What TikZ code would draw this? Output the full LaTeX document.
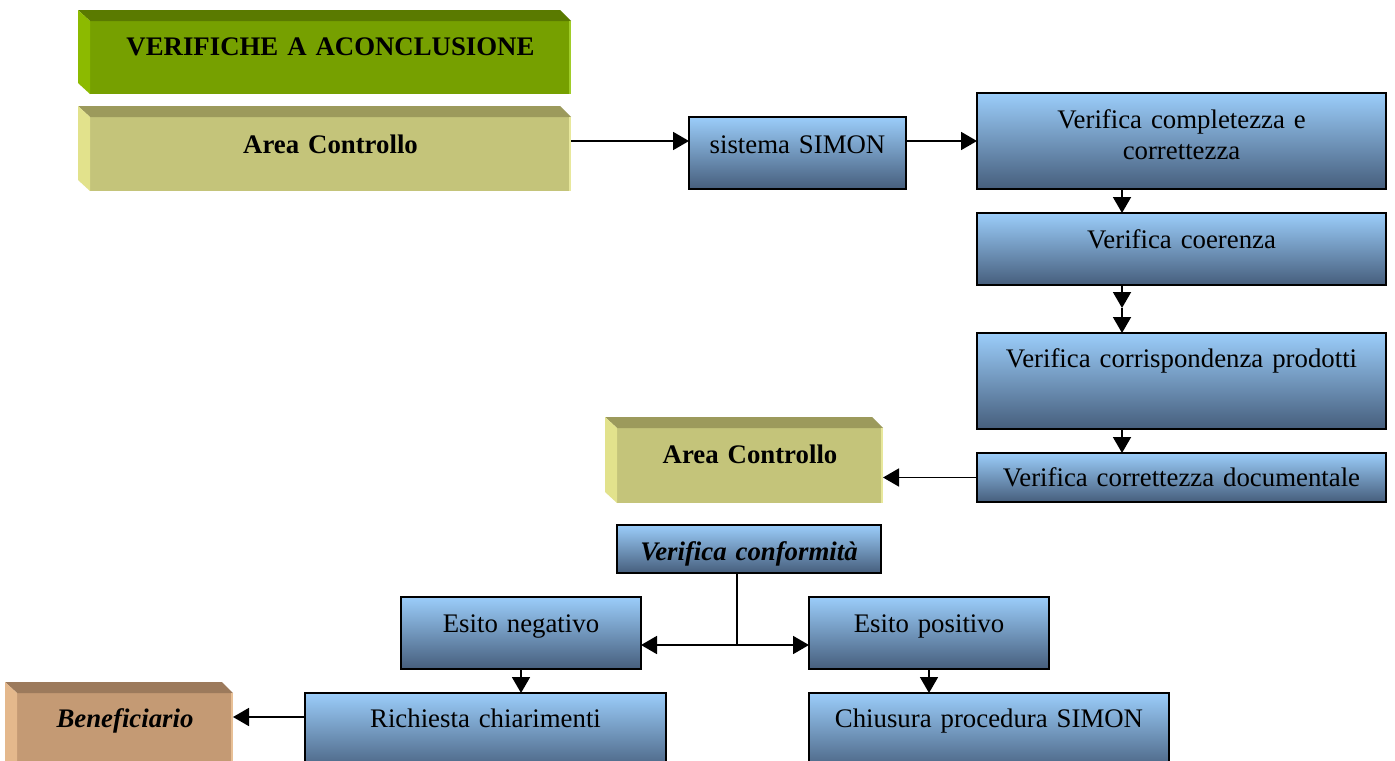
\documentclass[tikz,border=0pt]{standalone}
\usepackage{fontspec}
\setmainfont{Liberation Serif}
\usetikzlibrary{arrows.meta,calc}
\definecolor{boxtop}{RGB}{155,205,250}
\definecolor{boxbot}{RGB}{70,94,124}
\definecolor{grfront}{RGB}{118,160,0}
\definecolor{grtop}{RGB}{90,122,0}
\definecolor{grleft}{RGB}{140,186,0}
\definecolor{grright}{RGB}{160,205,40}
\definecolor{acfront}{RGB}{196,196,122}
\definecolor{actop}{RGB}{156,154,92}
\definecolor{acleft}{RGB}{226,226,140}
\definecolor{acright}{RGB}{232,232,156}
\definecolor{befront}{RGB}{196,154,116}
\definecolor{betop}{RGB}{156,122,92}
\definecolor{beleft}{RGB}{228,184,140}
\definecolor{beright}{RGB}{232,192,150}
\newcommand\bevfaces[4]{%
  \fill[#2] (#1.north west) -- ++(-12,-11) -- ($(#1.north east)+(-11,-11)$) -- (#1.north east) -- cycle;
  \fill[#3] (#1.north west) -- ++(-12,-11) -- ($(#1.south west)+(-12,-11)$) -- (#1.south west) -- cycle;
  \draw[#4, line width=1.2pt] ([xshift=-0.6pt]#1.north east) -- ([xshift=-0.6pt]#1.south east);
}
\tikzset{
  txt/.style={font=\fontsize{13.4}{15.5}\selectfont},
  bbox/.style={txt, draw=black, line width=1pt, top color=boxtop, bottom color=boxbot,
    anchor=north west, inner sep=0pt, outer sep=0pt, align=center},
  bev/.style={txt, anchor=north west, inner sep=0pt, outer sep=0pt, align=center,
    font=\fontsize{13.4}{15.5}\selectfont\bfseries},
  arr/.style={line width=0.9pt, -{Triangle[length=8pt,width=9pt]}},
  conn/.style={line width=0.9pt}
}
\begin{document}
\begin{tikzpicture}[x=0.5pt,y=-0.5pt]
\useasboundingbox (0,0) rectangle (1395,760);
\clip (0,0) rectangle (1395,760);
\fill[white] (0,0) rectangle (1395,760);
% bevel boxes
\node[bev, fill=grfront, text width=240.5pt, text height=17pt, text depth=19.5pt] (title) at (90,21) {VERIFICHE A ACONCLUSIONE};
\bevfaces{title}{grtop}{grleft}{grright}
\node[bev, fill=acfront, text width=240.5pt, text height=18pt, text depth=19pt] (ac1) at (90,117) {Area Controllo};
\bevfaces{ac1}{actop}{acleft}{acright}
\node[bev, fill=acfront, text width=133pt, text height=17.5pt, text depth=20pt] (ac2) at (617,428) {Area Controllo};
\bevfaces{ac2}{actop}{acleft}{acright}
\node[bev, fill=befront, text width=108pt, text height=17pt, text depth=24pt] (ben) at (17,693) {\itshape Beneficiario};
\bevfaces{ben}{betop}{beleft}{beright}
% blue boxes
\node[bbox, text width=108.5pt, text height=18pt, text depth=18pt] (sim) at (689,117) {sistema SIMON};
\node[bbox, text width=204.5pt, text height=17.5pt, text depth=30.5pt] (comp) at (977,93) {Verifica completezza e\\ correttezza};
\node[bbox, text width=204.5pt, text height=17.5pt, text depth=18.5pt] (coer) at (977,213) {Verifica coerenza};
\node[bbox, text width=204.5pt, text height=17pt, text depth=31pt] (corr) at (977,333) {Verifica corrispondenza prodotti};
\node[bbox, text width=204.5pt, text height=16.5pt, text depth=8pt] (doc) at (977,453) {Verifica correttezza documentale};
\node[bbox, text width=132pt, text height=17.5pt, text depth=6.5pt] (conf) at (617,525) {\bfseries\itshape Verifica conformità};
\node[bbox, text width=120pt, text height=17.5pt, text depth=18.5pt] (neg) at (401,597) {Esito negativo};
\node[bbox, text width=120pt, text height=17.5pt, text depth=18.5pt] (pos) at (809,597) {Esito positivo};
\node[bbox, text width=180.5pt, text height=17pt, text depth=23pt] (ric) at (305,693) {Richiesta chiarimenti};
\node[bbox, text width=180pt, text height=17pt, text depth=23pt] (chi) at (809,693) {Chiusura procedura SIMON};
% connectors
\draw[arr] ([yshift=6.5pt]ac1.east) -- ([yshift=6pt]sim.west);
\draw[arr] ([yshift=6pt]sim.east) -- (comp.west);
\draw[arr] ([xshift=-29.75pt]comp.south) -- ([xshift=-29.75pt]coer.north);
\coordinate (m1) at (1122,308);
\draw[arr] ([xshift=-29.75pt]coer.south) -- (m1);
\draw[arr] (m1) -- ([xshift=-29.75pt]corr.north);
\draw[arr] ([xshift=-29.75pt]corr.south) -- ([xshift=-29.75pt]doc.north);
\draw[arr] (doc.west) -- ([yshift=-6pt]ac2.east);
\coordinate (j) at (737,645);
\draw[conn] ([xshift=-6pt]conf.south) -- (j);
\draw[arr] (j) -- ([yshift=-6pt]neg.east);
\draw[arr] (j) -- ([yshift=-6pt]pos.west);
\draw[arr] (neg.south) -- (neg.south |- ric.north);
\draw[arr] (pos.south) -- (pos.south |- chi.north);
\draw[arr] ([yshift=8pt]ric.west) -- ([yshift=8.5pt]ben.east);
\end{tikzpicture}
\end{document}
